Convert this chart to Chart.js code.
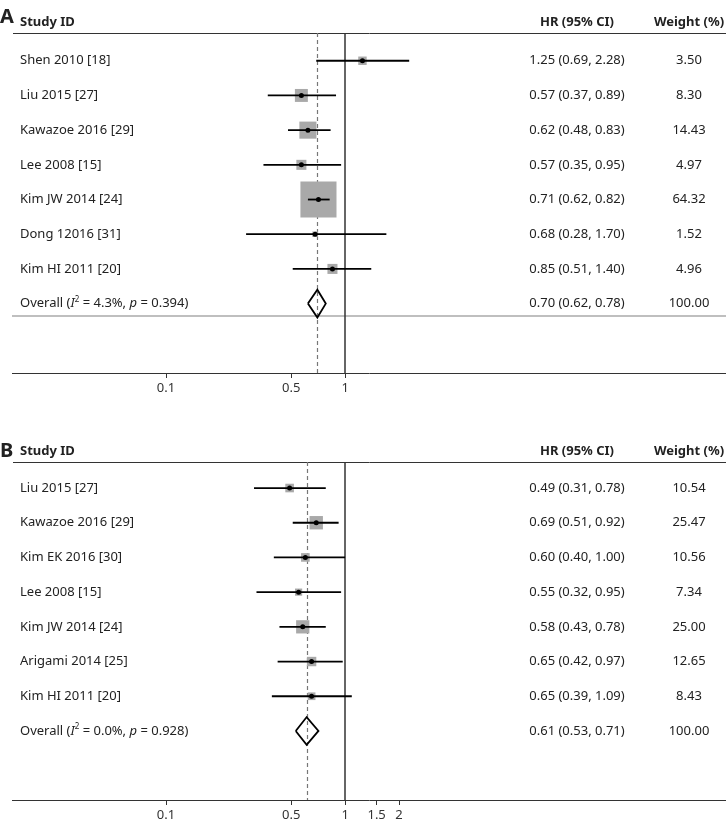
<!DOCTYPE html>
<html>
<head>
<meta charset="utf-8">
<title>Forest plots</title>
<script src="https://cdn.jsdelivr.net/npm/chart.js@4.4.1/dist/chart.umd.min.js"></script>
<style>
  body { margin: 0; background: #fff; }
  #wrap { position: relative; width: 726px; height: 819px; }
  canvas { position: absolute; left: 0; }
</style>
</head>
<body>
<div id="wrap">
  <canvas id="chartA" width="726" height="429" style="top:0"></canvas>
  <canvas id="chartB" width="726" height="390" style="top:429px"></canvas>
</div>
<script>
const FONT = "'Noto Sans', sans-serif";
const TEXT = "#222";

// Panel A
const studiesA = ["Shen 2010 [18]", "Liu 2015 [27]", "Kawazoe 2016 [29]", "Lee 2008 [15]", "Kim JW 2014 [24]", "Dong 12016 [31]", "Kim HI 2011 [20]"];
const hrA = [1.25, 0.57, 0.62, 0.57, 0.71, 0.68, 0.85];
const loA = [0.69, 0.37, 0.48, 0.35, 0.62, 0.28, 0.51];
const hiA = [2.28, 0.89, 0.83, 0.95, 0.82, 1.70, 1.40];
const weightA = [3.50, 8.30, 14.43, 4.97, 64.32, 1.52, 4.96];
const overallA = [0.70, 0.62, 0.78]; // HR, lower, upper
const hetA = ["4.3%", "0.394"];     // I², p
const ticksA = [0.1, 0.5, 1];

// Panel B
const studiesB = ["Liu 2015 [27]", "Kawazoe 2016 [29]", "Kim EK 2016 [30]", "Lee 2008 [15]", "Kim JW 2014 [24]", "Arigami 2014 [25]", "Kim HI 2011 [20]"];
const hrB = [0.49, 0.69, 0.60, 0.55, 0.58, 0.65, 0.65];
const loB = [0.31, 0.51, 0.40, 0.32, 0.43, 0.42, 0.39];
const hiB = [0.78, 0.92, 1.00, 0.95, 0.78, 0.97, 1.09];
const weightB = [10.54, 25.47, 10.56, 7.34, 25.00, 12.65, 8.43];
const overallB = [0.61, 0.53, 0.71];
const hetB = ["0.0%", "0.928"];
const ticksB = [0.1, 0.5, 1, 1.5, 2];

function hline(ctx, x0, x1, y) {
  ctx.beginPath();
  ctx.moveTo(x0, y);
  ctx.lineTo(x1, y);
  ctx.stroke();
}

function drawOverallLabel(ctx, x, y, het) {
  const parts = [
    ["Overall (", "", 13, 0],
    ["I", "italic ", 13, 0],
    ["2", "", 8, -4],
    [" = " + het[0] + ", ", "", 13, 0],
    ["p", "italic ", 13, 0],
    [" = " + het[1] + ")", "", 13, 0]
  ];
  for (const [t, st, sz, dy] of parts) {
    ctx.font = st + sz + "px " + FONT;
    ctx.fillText(t, x, y + dy);
    x += ctx.measureText(t).width;
  }
}

function makePanel(id, letter, studies, hr, lo, hi, weight, overall, het, ticks, opts) {
  const n = studies.length;

  const forestPlugin = {
    id: "forest",
    beforeDatasetsDraw(chart) {
      const { ctx, chartArea: a, scales: { x, y } } = chart;
      ctx.save();
      // header rule
      ctx.strokeStyle = "#333";
      ctx.lineWidth = 1;
      hline(ctx, a.left + 1, a.right, Math.round(a.top) + 0.5);
      // rule under overall
      if (opts.rule) {
        ctx.strokeStyle = "#aaa";
        ctx.lineWidth = 1.5;
        hline(ctx, a.left, a.right, y.getPixelForValue(n + opts.rule));
      }
      // null line
      const x1 = Math.round(x.getPixelForValue(1));
      ctx.strokeStyle = "#333";
      ctx.lineWidth = 1.5;
      ctx.beginPath();
      ctx.moveTo(x1, a.top);
      ctx.lineTo(x1, a.bottom);
      ctx.stroke();
      // overall estimate
      const xo = Math.round(x.getPixelForValue(overall[0])) + 0.5;
      ctx.strokeStyle = "#777";
      ctx.lineWidth = 1.2;
      ctx.setLineDash([4, 3]);
      ctx.beginPath();
      ctx.moveTo(xo, a.top);
      ctx.lineTo(xo, a.bottom);
      ctx.stroke();
      ctx.restore();
    },
    afterDraw(chart) {
      const { ctx, chartArea: a, scales: { y } } = chart;
      ctx.save();
      ctx.fillStyle = TEXT;
      ctx.textBaseline = "alphabetic";
      ctx.font = "bold 20px " + FONT;
      ctx.textAlign = "left";
      ctx.fillText(letter, 0, a.top - opts.letterDy);
      ctx.font = "bold 13px " + FONT;
      ctx.fillText("Study ID", 20, a.top - 7);
      ctx.textAlign = "center";
      ctx.fillText("HR (95% CI)", 577, a.top - 7);
      ctx.fillText("Weight (%)", 689, a.top - 7);

      ctx.font = "13px " + FONT;
      ctx.textBaseline = "middle";
      for (let i = 0; i < n; i++) {
        const yy = y.getPixelForValue(i);
        ctx.textAlign = "left";
        ctx.fillText(studies[i], 20, yy);
        ctx.textAlign = "center";
        ctx.fillText(hr[i].toFixed(2) + " (" + lo[i].toFixed(2) + ", " + hi[i].toFixed(2) + ")", 577, yy);
        ctx.fillText(weight[i].toFixed(2), 689, yy);
      }
      const yo = y.getPixelForValue(n);
      ctx.textAlign = "center";
      ctx.fillText(overall[0].toFixed(2) + " (" + overall[1].toFixed(2) + ", " + overall[2].toFixed(2) + ")", 577, yo);
      ctx.fillText("100.00", 689, yo);
      ctx.textAlign = "left";
      drawOverallLabel(ctx, 20, yo, het);
      ctx.restore();
    }
  };

  const pts = hr.map((v, i) => ({ x: v, y: i }));
  const datasets = [
    // dots
    { type: "scatter", data: pts, pointStyle: "circle", pointRadius: 2.5, backgroundColor: "#000", borderWidth: 0 },
    // confidence intervals
    ...lo.map((v, i) => ({
      type: "line",
      data: [{ x: v, y: i }, { x: hi[i], y: i }],
      borderColor: "#000",
      borderWidth: 1.8,
      pointRadius: 0,
      fill: false
    })),
    // weight boxes
    {
      type: "scatter",
      data: pts,
      pointStyle: "rect",
      pointRadius: weight.map(w => opts.box * Math.sqrt(w) / Math.SQRT2),
      backgroundColor: "#a9a9a9",
      borderWidth: 0
    },
    // pooled diamond
    {
      type: "line",
      data: [
        { x: overall[1], y: n },
        { x: overall[0], y: n - 0.4 },
        { x: overall[2], y: n },
        { x: overall[0], y: n + 0.4 },
        { x: overall[1], y: n }
      ],
      borderColor: "#000",
      borderWidth: 1.8,
      pointRadius: 0,
      fill: false,
      tension: 0
    }
  ];

  return new Chart(document.getElementById(id), {
    type: "scatter",
    data: { datasets },
    options: {
      responsive: false,
      animation: false,
      events: [],
      layout: { autoPadding: false, padding: { left: 12, right: 0, top: 33, bottom: opts.padBottom } },
      plugins: { legend: { display: false }, tooltip: { enabled: false } },
      scales: {
        x: {
          type: "logarithmic",
          min: 0.0138,
          max: 134,
          afterBuildTicks: s => { s.ticks = ticks.map(v => ({ value: v })); },
          afterFit: s => { s.height = 19; },
          ticks: {
            callback: v => String(v),
            autoSkip: false,
            maxRotation: 0,
            padding: 2,
            color: "#333",
            font: { family: FONT, size: 13 }
          },
          grid: { drawOnChartArea: false, drawTicks: true, tickLength: 5, color: "#333" },
          border: { display: true, color: "#333", width: 1 }
        },
        y: {
          type: "linear",
          reverse: true,
          min: opts.yMin,
          max: opts.yMax,
          display: false
        }
      }
    },
    plugins: [forestPlugin]
  });
}

makePanel("chartA", "A", studiesA, hrA, loA, hiA, weightA, overallA, hetA, ticksA,
  { box: 4.5, rule: 0.36, letterDy: 10, yMin: -0.8, yMax: 9.0, padBottom: 37 });
makePanel("chartB", "B", studiesB, hrB, loB, hiB, weightB, overallB, hetB, ticksB,
  { box: 2.65, rule: 0, letterDy: 5, yMin: -0.75, yMax: 8.99, padBottom: 0 });
</script>
</body>
</html>
